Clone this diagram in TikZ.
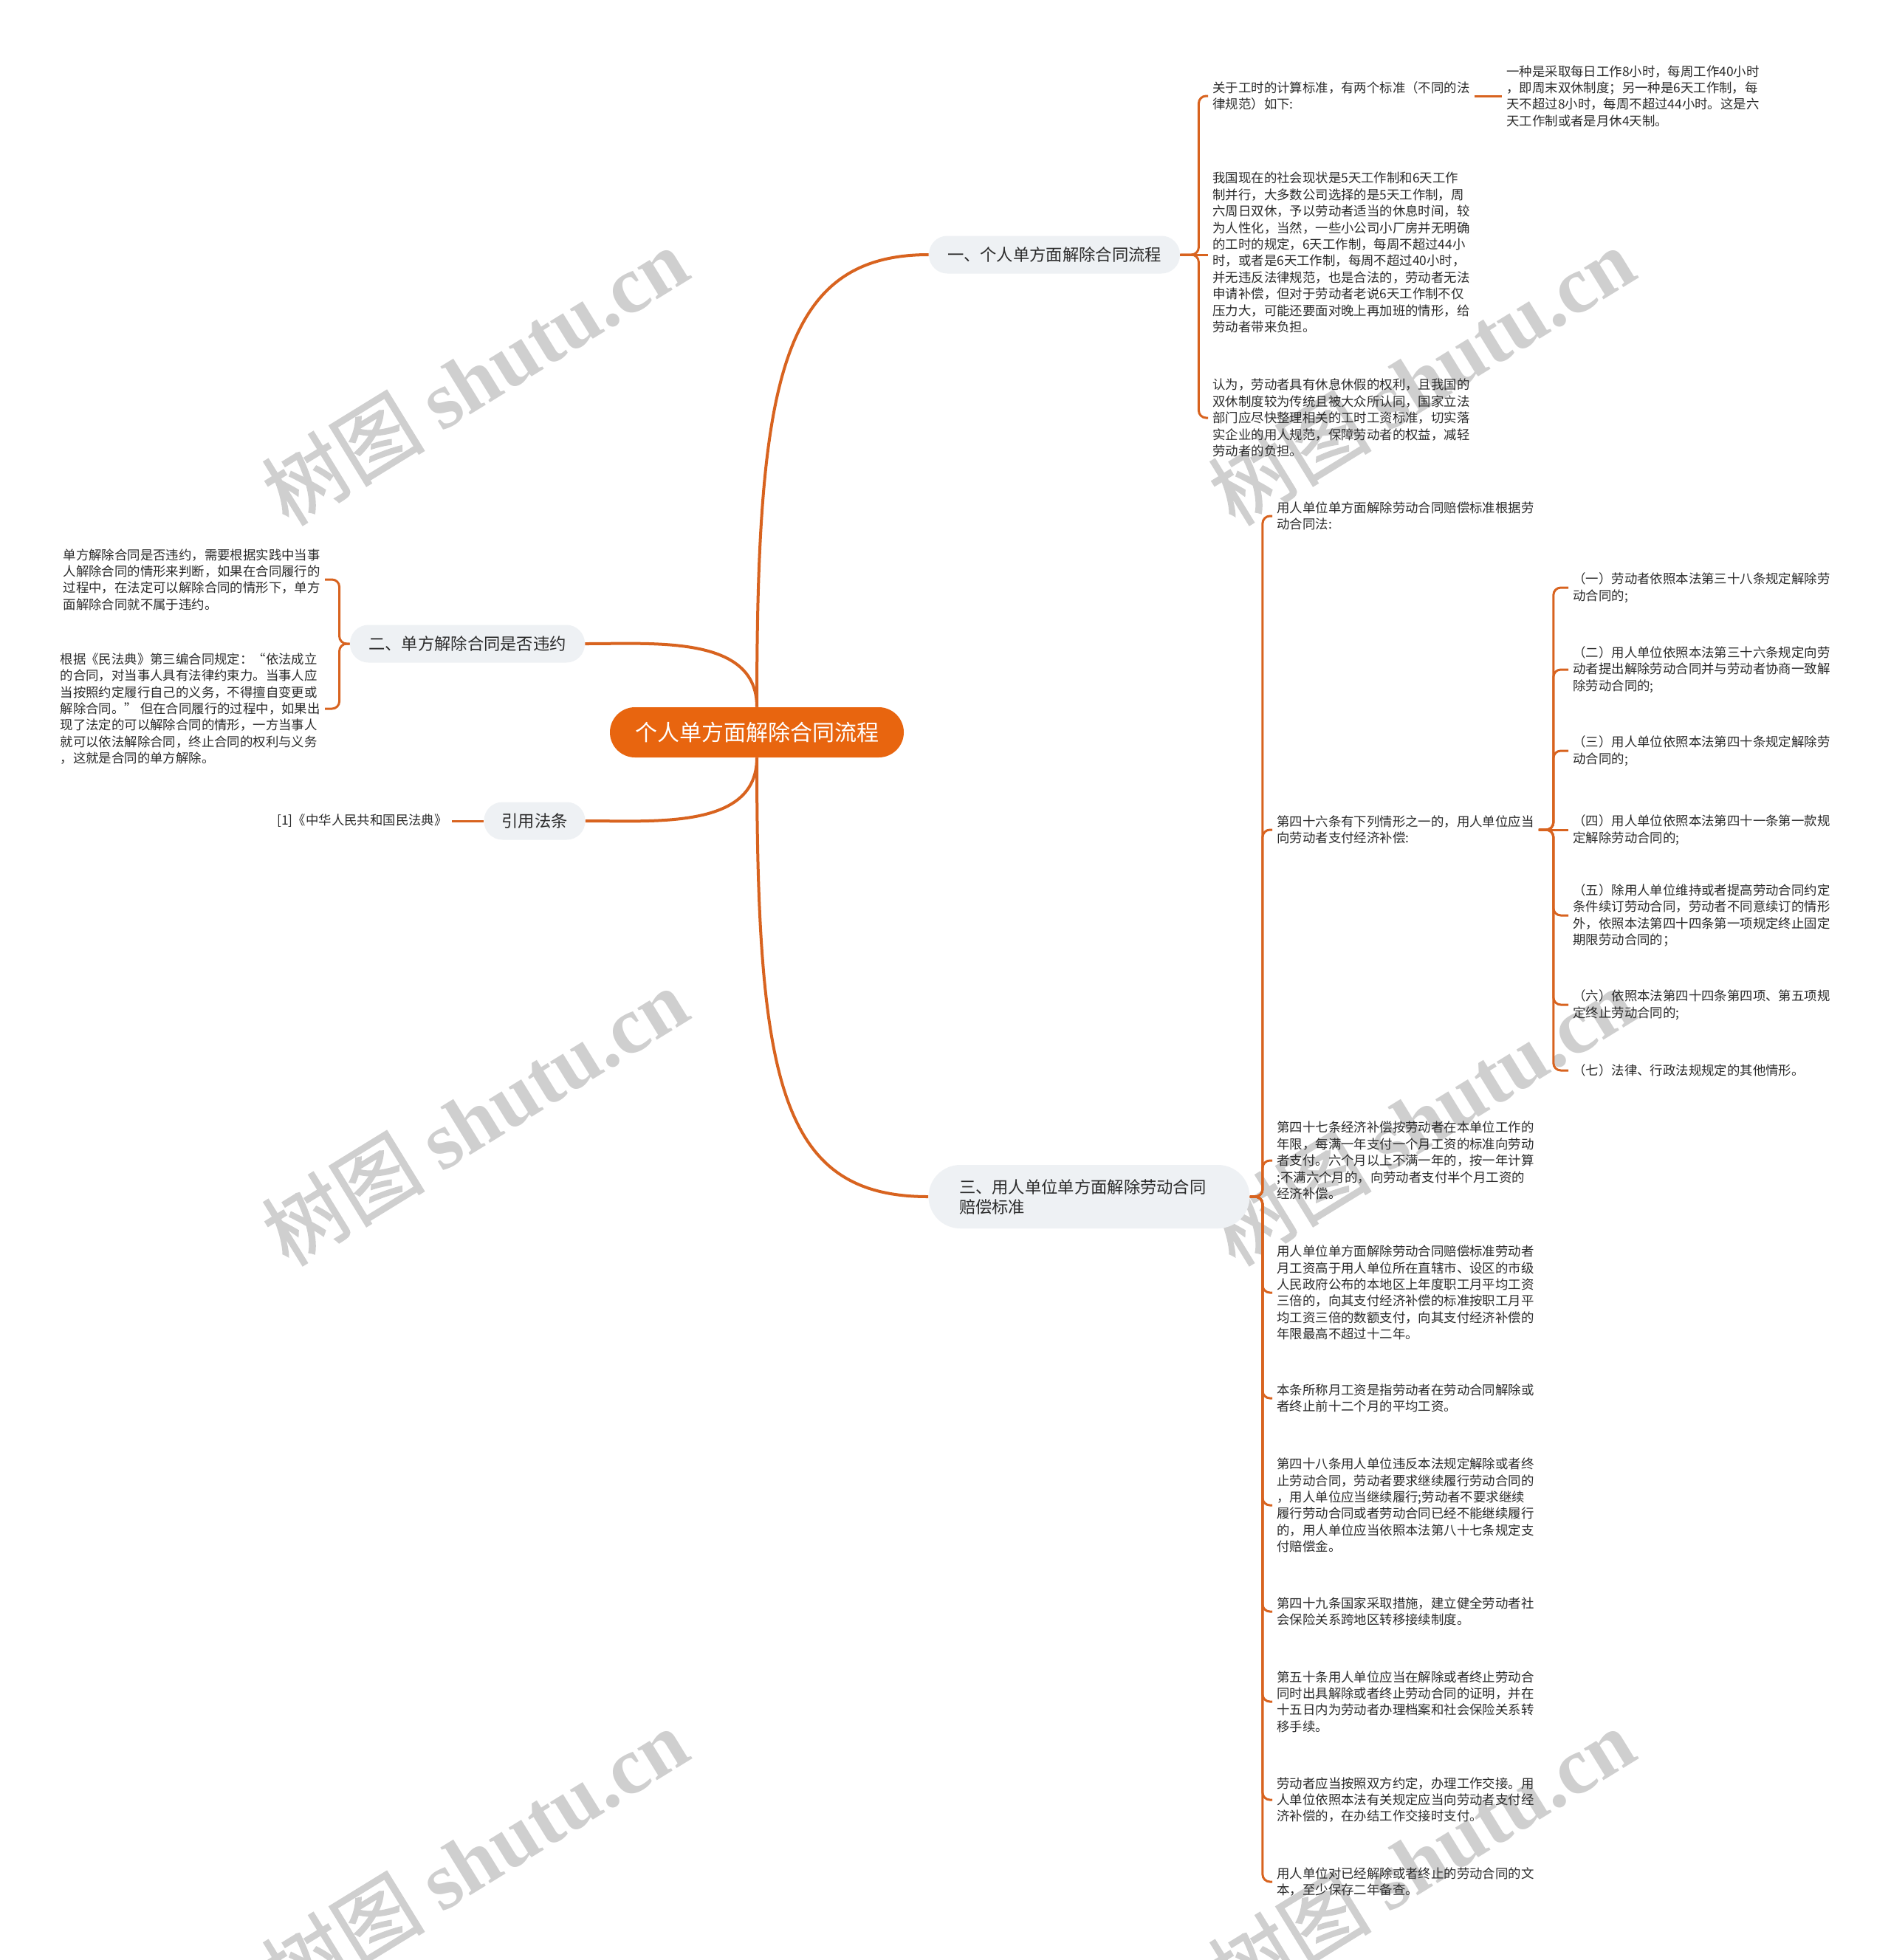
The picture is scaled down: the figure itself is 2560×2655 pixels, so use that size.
\documentclass[tikz,border=0pt]{standalone}
\usepackage{fontspec}
\setmainfont{Noto Sans CJK SC}
\newfontfamily\wmcjk[FakeBold=1.5]{Noto Sans CJK SC}
\newfontfamily\wmlat{Liberation Serif}
\definecolor{rootc}{HTML}{E8650F}
\definecolor{branchc}{HTML}{EEF1F4}
\definecolor{linkc}{HTML}{D8631F}
\definecolor{textc}{HTML}{2B2B2B}
\definecolor{wmc}{HTML}{CFCFCF}
\tikzset{
  root/.style={fill=rootc, text=white, rounded corners=17pt, minimum width=199pt, minimum height=34pt, font=\fontsize{15pt}{18pt}\selectfont, inner sep=0pt},
  branch/.style={fill=branchc, text=textc, rounded corners=12.5pt, minimum height=25.5pt, font=\fontsize{11.15pt}{13.5pt}\selectfont, inner sep=0pt},
  leaf/.style={text=textc, align=left, inner xsep=3pt, inner ysep=1pt, font=\fontsize{8.7pt}{11.2pt}\selectfont},
  link/.style={draw=linkc, line width=1.5pt, rounded corners=5pt},
  mainlink/.style={draw=linkc, line width=2pt},
  wm/.style={text=wmc, rotate=31.6, inner sep=0pt, font=\fontsize{55pt}{62pt}\selectfont}
}
\begin{document}
\begin{tikzpicture}[x=0.5pt, y=-0.5pt]
\useasboundingbox (0,0) rectangle (2560,2655);
\fill[white] (0,0) rectangle (2560,2655);

% watermarks
\foreach \wx/\wy [count=\i] in {643/509, 1925/509, 643/1512, 1925/1512, 643/2515, 1925/2515}
  \node[wm] (wm\i) at (\wx,\wy) {{\wmcjk 树图} {\wmlat\bfseries shutu.cn}};

% root and branches
\node[root] (root) at (1025,992) {个人单方面解除合同流程};
\node[branch, minimum width=170pt] (b1) at (1428,345) {一、个人单方面解除合同流程};
\node[branch, minimum width=159pt] (b2) at (633,872) {二、单方解除合同是否违约};
\node[branch, minimum width=68.5pt] (b4) at (724,1112) {引用法条};
\node[branch, minimum width=217.5pt, minimum height=43pt, rounded corners=21.5pt, text width=176pt, inner xsep=20.75pt, align=left] (b3) at (1475,1621) {三、用人单位单方面解除劳动合同\\赔偿标准};

% branch 1 children
\node[leaf, anchor=west] (c1a) at (1636,130) {关于工时的计算标准，有两个标准（不同的法\\律规范）如下:};
\node[leaf, anchor=west] (g1a) at (2034,130) {一种是采取每日工作8小时，每周工作40小时\\，即周末双休制度；另一种是6天工作制，每\\天不超过8小时，每周不超过44小时。这是六\\天工作制或者是月休4天制。};
\node[leaf, anchor=west] (c1b) at (1636,342) {我国现在的社会现状是5天工作制和6天工作\\制并行，大多数公司选择的是5天工作制，周\\六周日双休，予以劳动者适当的休息时间，较\\为人性化，当然，一些小公司小厂房并无明确\\的工时的规定，6天工作制，每周不超过44小\\时，或者是6天工作制，每周不超过40小时，\\并无违反法律规范，也是合法的，劳动者无法\\申请补偿，但对于劳动者老说6天工作制不仅\\压力大，可能还要面对晚上再加班的情形，给\\劳动者带来负担。};
\node[leaf, anchor=west] (c1c) at (1636,566) {认为，劳动者具有休息休假的权利，且我国的\\双休制度较为传统且被大众所认同，国家立法\\部门应尽快整理相关的工时工资标准，切实落\\实企业的用人规范，保障劳动者的权益，减轻\\劳动者的负担。};

% branch 2 children
\node[leaf, anchor=east] (c2a) at (440,785) {单方解除合同是否违约，需要根据实践中当事\\人解除合同的情形来判断，如果在合同履行的\\过程中，在法定可以解除合同的情形下，单方\\面解除合同就不属于违约。};
\node[leaf, anchor=east] (c2b) at (440,960) {根据《民法典》第三编合同规定：“依法成立\\的合同，对当事人具有法律约束力。当事人应\\当按照约定履行自己的义务，不得擅自变更或\\解除合同。” 但在合同履行的过程中，如果出\\现了法定的可以解除合同的情形，一方当事人\\就可以依法解除合同，终止合同的权利与义务\\，这就是合同的单方解除。};

% law
\node[leaf, anchor=east] (law) at (612,1112) {[1]《中华人民共和国民法典》};

% branch 3 children
\node[leaf, anchor=west] (c3a) at (1723,699) {用人单位单方面解除劳动合同赔偿标准根据劳\\动合同法:};
\node[leaf, anchor=west] (c3b) at (1723,1124) {第四十六条有下列情形之一的，用人单位应当\\向劳动者支付经济补偿:};
\node[leaf, anchor=west] (c3c) at (1723,1572) {第四十七条经济补偿按劳动者在本单位工作的\\年限，每满一年支付一个月工资的标准向劳动\\者支付。六个月以上不满一年的，按一年计算\\;不满六个月的，向劳动者支付半个月工资的\\经济补偿。};
\node[leaf, anchor=west] (c3d) at (1723,1751) {用人单位单方面解除劳动合同赔偿标准劳动者\\月工资高于用人单位所在直辖市、设区的市级\\人民政府公布的本地区上年度职工月平均工资\\三倍的，向其支付经济补偿的标准按职工月平\\均工资三倍的数额支付，向其支付经济补偿的\\年限最高不超过十二年。};
\node[leaf, anchor=west] (c3e) at (1723,1894) {本条所称月工资是指劳动者在劳动合同解除或\\者终止前十二个月的平均工资。};
\node[leaf, anchor=west] (c3f) at (1723,2039) {第四十八条用人单位违反本法规定解除或者终\\止劳动合同，劳动者要求继续履行劳动合同的\\，用人单位应当继续履行;劳动者不要求继续\\履行劳动合同或者劳动合同已经不能继续履行\\的，用人单位应当依照本法第八十七条规定支\\付赔偿金。};
\node[leaf, anchor=west] (c3g) at (1723,2183) {第四十九条国家采取措施，建立健全劳动者社\\会保险关系跨地区转移接续制度。};
\node[leaf, anchor=west] (c3h) at (1723,2305) {第五十条用人单位应当在解除或者终止劳动合\\同时出具解除或者终止劳动合同的证明，并在\\十五日内为劳动者办理档案和社会保险关系转\\移手续。};
\node[leaf, anchor=west] (c3i) at (1723,2438) {劳动者应当按照双方约定，办理工作交接。用\\人单位依照本法有关规定应当向劳动者支付经\\济补偿的，在办结工作交接时支付。};
\node[leaf, anchor=west] (c3j) at (1723,2549) {用人单位对已经解除或者终止的劳动合同的文\\本，至少保存二年备查。};

% 3b grandchildren
\node[leaf, anchor=west] (h1) at (2124,796) {（一）劳动者依照本法第三十八条规定解除劳\\动合同的;};
\node[leaf, anchor=west] (h2) at (2124,907) {（二）用人单位依照本法第三十六条规定向劳\\动者提出解除劳动合同并与劳动者协商一致解\\除劳动合同的;};
\node[leaf, anchor=west] (h3) at (2124,1017) {（三）用人单位依照本法第四十条规定解除劳\\动合同的;};
\node[leaf, anchor=west] (h4) at (2124,1124) {（四）用人单位依照本法第四十一条第一款规\\定解除劳动合同的;};
\node[leaf, anchor=west] (h5) at (2124,1240) {（五）除用人单位维持或者提高劳动合同约定\\条件续订劳动合同，劳动者不同意续订的情形\\外，依照本法第四十四条第一项规定终止固定\\期限劳动合同的；};
\node[leaf, anchor=west] (h6) at (2124,1361) {（六）依照本法第四十四条第四项、第五项规\\定终止劳动合同的;};
\node[leaf, anchor=west] (h7) at (2124,1450) {（七）法律、行政法规规定的其他情形。};

% root connectors
\draw[mainlink] (root.north) to[out=90,in=180,out distance=220pt,in distance=100pt] (b1.west);
\draw[mainlink] (root.south) to[out=-90,in=180,out distance=220pt,in distance=100pt] (b3.west);
\draw[mainlink] (root.north) to[out=90,in=0] (b2.east);
\draw[mainlink] (root.south) to[out=-90,in=0] (b4.east);

% branch 1 connectors
\draw[link] (b1.east) -- ++(25,0) |- (c1a.west);
\draw[link] (b1.east) -- (b1.east -| c1b.west);
\draw[link] (b1.east) -- ++(25,0) |- (c1c.west);
\draw[link] (c1a.east) -- (g1a.west);

% branch 2 connectors
\draw[link] (b2.west) -- ++(-14,0) |- (c2a.east);
\draw[link] (b2.west) -- ++(-14,0) |- (c2b.east);
\draw[link] (b4.west) -- (law.east);

% branch 3 connectors
\foreach \c in {c3a,c3b,c3c,c3d,c3e,c3f,c3g,c3h,c3i,c3j}
  \draw[link] (b3.east) -- ++(17,0) |- (\c.west);

% 3b connectors
\foreach \c in {h1,h2,h3,h5,h6,h7}
  \draw[link] (c3b.east) -- ++(20,0) |- (\c.west);
\draw[link] (c3b.east) -- (h4.west);
\end{tikzpicture}
\end{document}
